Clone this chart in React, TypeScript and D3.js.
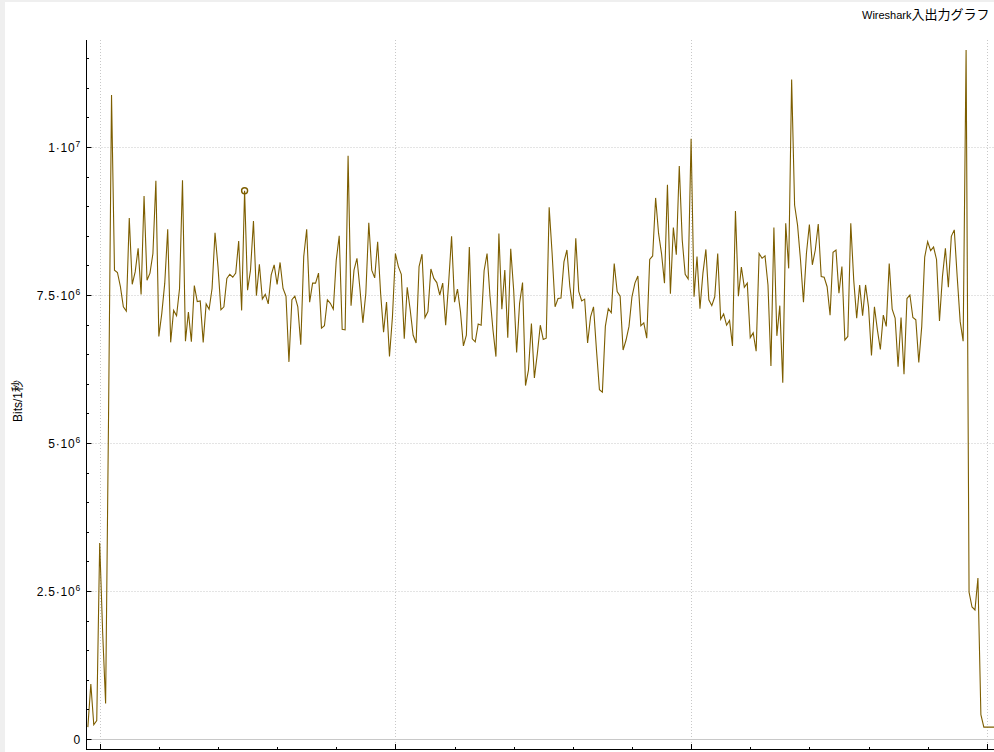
import React from 'react';
import * as d3 from 'd3';

const TITLE_LATIN = 'Wireshark';
const TITLE_CJK = '入出力グラフ';
const Y_LABEL = 'Bits/1秒';
const START_SECOND = -4;
// bits per second, in millions, one value per 1 s interval starting at START_SECOND
const bitsMillions = [
  0.20, 0.93, 0.24, 0.31, 3.31, 1.8, 0.6, 5.5, 10.88, 7.92,
  7.88, 7.64, 7.30, 7.23, 8.80, 7.68, 7.89, 8.29, 7.51, 9.17,
  7.75, 7.87, 8.20, 9.43, 6.80, 7.19, 7.70, 8.61, 6.70, 7.24,
  7.15, 7.61, 9.44, 6.72, 7.21, 6.71, 7.66, 7.39, 7.40, 6.70,
  7.35, 7.26, 7.61, 8.55, 7.98, 7.25, 7.30, 7.78, 7.85, 7.80,
  7.87, 8.41, 7.24, 9.26, 7.58, 7.92, 8.75, 7.49, 8.02, 7.43,
  7.51, 7.35, 7.84, 8.01, 7.68, 8.05, 7.61, 7.48, 6.37, 7.42,
  7.48, 7.30, 6.66, 8.15, 8.61, 7.38, 7.70, 7.70, 7.87, 6.94,
  6.98, 7.42, 7.36, 7.26, 8.09, 8.50, 6.92, 6.91, 9.85, 7.32,
  7.92, 8.12, 7.61, 7.03, 7.53, 8.72, 7.92, 7.79, 8.40, 7.53,
  6.87, 7.38, 6.46, 7.13, 8.20, 7.98, 7.85, 6.76, 7.63, 7.25,
  6.82, 6.69, 7.98, 8.19, 7.12, 7.22, 7.94, 7.78, 7.71, 7.50,
  7.70, 6.99, 7.70, 8.49, 7.38, 7.60, 7.22, 6.64, 6.82, 8.31,
  6.76, 6.71, 7.01, 6.99, 7.91, 8.20, 7.47, 6.91, 6.46, 8.54,
  7.26, 7.92, 6.78, 8.28, 7.58, 6.53, 7.36, 7.71, 5.97, 6.23,
  7.02, 6.10, 6.51, 6.99, 6.75, 6.77, 8.98, 8.20, 7.30, 7.44,
  7.45, 8.06, 8.26, 7.64, 7.27, 8.46, 7.56, 7.40, 7.43, 6.69,
  7.13, 7.30, 6.57, 5.90, 5.86, 6.97, 7.27, 7.20, 8.03, 7.56,
  7.48, 6.57, 6.74, 6.97, 7.47, 7.70, 7.82, 6.98, 7.03, 6.77,
  8.10, 8.16, 9.14, 8.54, 8.20, 7.70, 9.36, 7.52, 8.64, 8.18,
  9.68, 8.43, 7.85, 7.77, 10.14, 7.47, 8.15, 7.27, 7.87, 8.27,
  7.42, 7.32, 7.47, 8.20, 7.09, 7.18, 6.99, 7.07, 6.64, 8.92,
  7.48, 7.97, 7.63, 7.70, 6.78, 6.86, 6.55, 8.20, 8.12, 8.16,
  7.67, 6.30, 8.64, 6.81, 7.32, 6.02, 8.71, 7.95, 11.14, 9.02,
  8.68, 8.09, 7.38, 8.20, 8.69, 8.01, 8.26, 8.70, 7.81, 7.80,
  7.64, 7.16, 8.22, 8.26, 7.53, 7.98, 6.74, 6.80, 8.71, 7.75,
  7.11, 7.67, 7.15, 7.67, 7.30, 6.48, 7.30, 6.91, 6.58, 7.16,
  6.97, 8.03, 7.26, 7.11, 6.29, 7.12, 6.16, 7.44, 7.50, 7.12,
  7.08, 6.36, 6.97, 8.14, 8.40, 8.25, 8.31, 8.10, 7.06, 7.81,
  8.29, 7.63, 8.49, 8.60, 7.80, 7.05, 6.72, 11.64, 2.48, 2.23,
  2.18, 2.72, 0.41, 0.20, 0.20, 0.20, 0.20, 0.20,
];
const MARKER_SECOND = 49;

const yMajorTicks = [0, 2.5e6, 5e6, 7.5e6, 1e7];
const yTickMantissa = ['0', '2.5·10', '5·10', '7.5·10', '1·10'];
const yTickExponent = ['', '6', '6', '6', '7'];
const xMajorTicks = [0, 100, 200, 300];

const W = 994;
const H = 752;
const LINE_COLOR = '#7d5e00';
const GRID_COLOR = '#c8c8c8';
const FONT = '"Liberation Sans", Arial, "Noto Sans CJK JP", sans-serif';

export default function App() {
  const left = 86.5;
  const top = 40;
  const bottom = 749.5;
  const right = 1100;

  const x = d3.scaleLinear().domain([0, 300]).range([99.7, 99.7 + 2.957 * 300]);
  const y = d3.scaleLinear().domain([0, 1e7]).range([739, 147]);

  const data = bitsMillions.map((v, i) => ({ t: START_SECOND + i, v: v * 1e6 }));
  const line = d3
    .line<{ t: number; v: number }>()
    .x((d) => x(d.t))
    .y((d) => y(d.v));

  const yMinor = d3
    .range(0, 12e6, 0.5e6)
    .filter((v) => !yMajorTicks.includes(v))
    .filter((v) => y(v) >= top && y(v) <= bottom);
  const xMinor = d3
    .range(0, 400, 20)
    .filter((t) => !xMajorTicks.includes(t))
    .filter((t) => x(t) > left && x(t) < W);

  const marker = data.find((d) => d.t === MARKER_SECOND)!;

  return (
    <div style={{ position: 'fixed', left: 0, top: 0, width: W, height: H }}>
      <svg width={W} height={H} style={{ display: 'block' }}>
        <rect x={0} y={0} width={W} height={H} fill="#efefef" />
        <rect x={5} y={2} width={W} height={H} fill="#ffffff" />
        <defs>
          <clipPath id="plotClip">
            <rect x={left} y={top} width={right - left} height={bottom - top} />
          </clipPath>
        </defs>

        {/* title */}
        <text x={862} y={18.5} fontFamily={FONT} fontSize={11} fill="#000">
          {TITLE_LATIN}
          <tspan fontSize={13}>{TITLE_CJK}</tspan>
        </text>

        {/* grid */}
        <g>
          {yMajorTicks
            .filter((v) => v !== 0)
            .map((v) => (
              <line
                key={'gy' + v}
                x1={left}
                x2={right}
                y1={Math.round(y(v)) + 0.5}
                y2={Math.round(y(v)) + 0.5}
                stroke={GRID_COLOR}
                strokeDasharray="1,2"
              />
            ))}
          {xMajorTicks.map((t) => (
            <line
              key={'gx' + t}
              x1={Math.round(x(t)) + 0.5}
              x2={Math.round(x(t)) + 0.5}
              y1={top}
              y2={bottom}
              stroke={GRID_COLOR}
              strokeDasharray="1,2"
            />
          ))}
          <line
            x1={left}
            x2={right}
            y1={Math.round(y(0)) + 0.5}
            y2={Math.round(y(0)) + 0.5}
            stroke={GRID_COLOR}
          />
        </g>

        {/* data line */}
        <g clipPath="url(#plotClip)">
          <path d={line(data) ?? ''} fill="none" stroke={LINE_COLOR} strokeWidth={1.1} strokeLinejoin="miter" />
          <circle cx={x(marker.t)} cy={y(marker.v)} r={3} fill="none" stroke={LINE_COLOR} strokeWidth={1.4} />
        </g>

        {/* axes */}
        <line x1={left} x2={left} y1={top} y2={bottom + 0.5} stroke="#000" />
        <line x1={left} x2={right} y1={bottom} y2={bottom} stroke="#000" />
        {yMajorTicks.map((v) => (
          <line key={'ty' + v} x1={left} x2={left + 5} y1={Math.round(y(v)) + 0.5} y2={Math.round(y(v)) + 0.5} stroke="#000" />
        ))}
        {yMinor.map((v) => (
          <line key={'tym' + v} x1={left} x2={left + 2.5} y1={Math.round(y(v)) + 0.5} y2={Math.round(y(v)) + 0.5} stroke="#000" />
        ))}
        {xMajorTicks.map((t) => (
          <line key={'tx' + t} x1={Math.round(x(t)) + 0.5} x2={Math.round(x(t)) + 0.5} y1={bottom} y2={bottom - 5.5} stroke="#000" />
        ))}
        {xMinor.map((t) => (
          <line key={'txm' + t} x1={Math.round(x(t)) + 0.5} x2={Math.round(x(t)) + 0.5} y1={bottom} y2={bottom - 2.5} stroke="#000" />
        ))}

        {/* y tick labels */}
        {yMajorTicks.map((v, i) => (
          <text
            key={'ly' + v}
            x={81}
            y={y(v) + 4.5}
            textAnchor="end"
            fontFamily={FONT}
            fontSize={12}
            letterSpacing={0.8}
            fill="#000"
          >
            {yTickMantissa[i]}
            {yTickExponent[i] ? (
              <tspan fontSize={8.5} dy={-5}>
                {yTickExponent[i]}
              </tspan>
            ) : null}
          </text>
        ))}

        {/* y axis label */}
        <text
          transform={`translate(22, 422) rotate(-90)`}
          fontFamily={FONT}
          fontSize={12}
          fill="#000"
        >
          {Y_LABEL}
        </text>
      </svg>
    </div>
  );
}
